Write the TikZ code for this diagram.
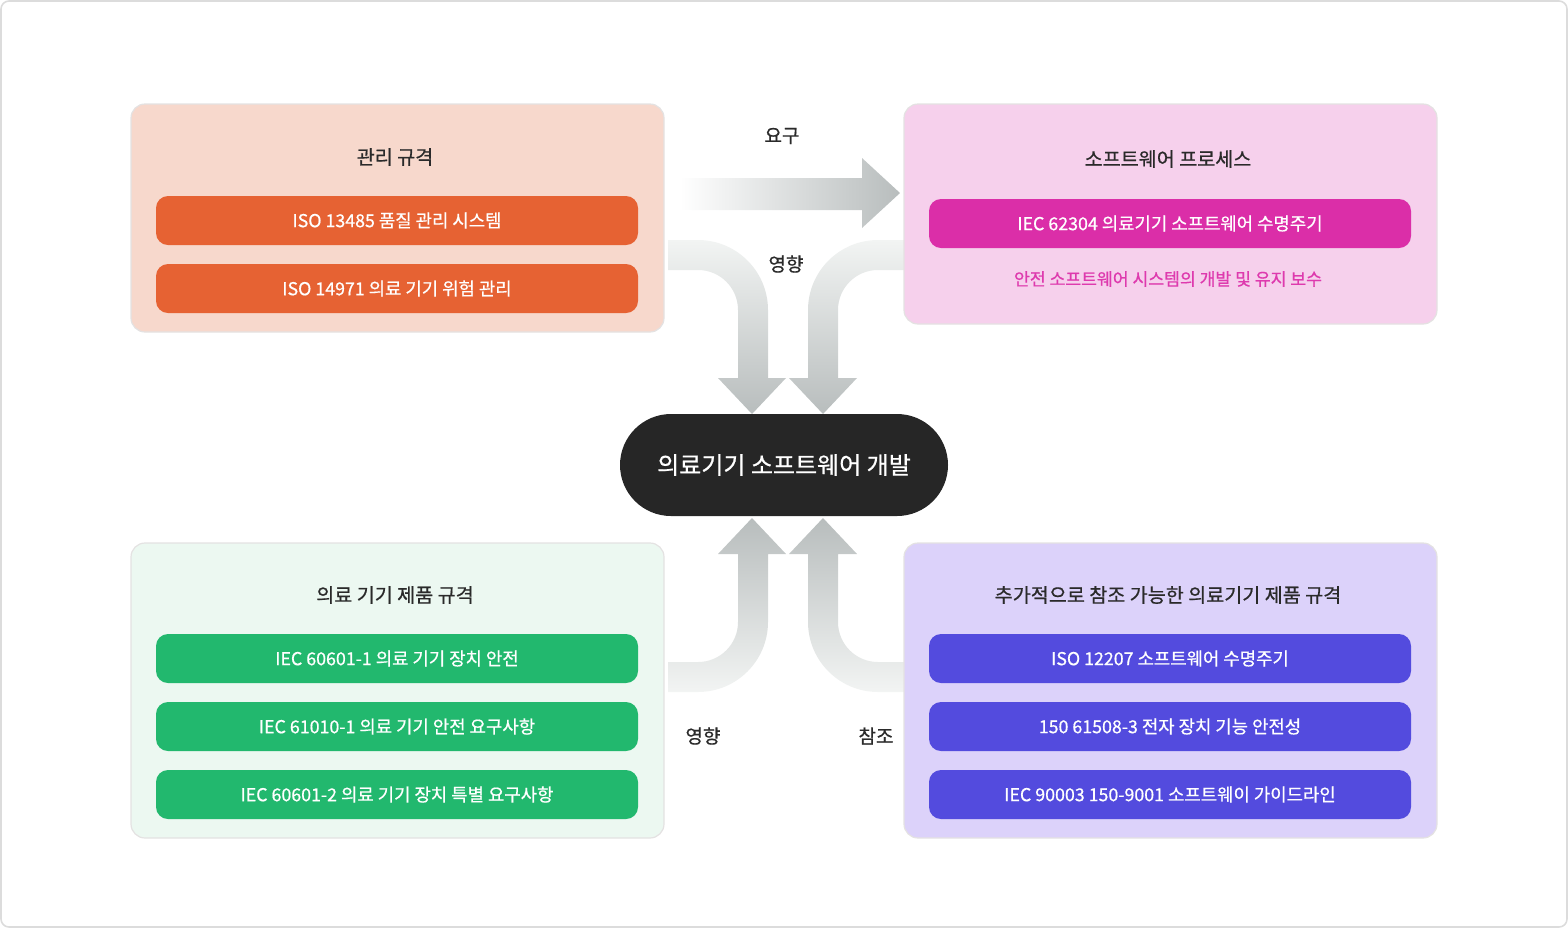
\documentclass[tikz,border=0pt]{standalone}
\usepackage{fontspec}
\setmainfont{Noto Sans CJK KR}
\newfontfamily\medkr{Noto Sans CJK KR}[FakeBold=0.7]
\usetikzlibrary{positioning}

\definecolor{framegray}{HTML}{DCDCDC}
\definecolor{edgegray}{HTML}{E4E2E2}
\definecolor{titlegray}{HTML}{2A2A2A}
\definecolor{peachbg}{HTML}{F7D8CC}
\definecolor{pinkbg}{HTML}{F6D0EC}
\definecolor{mintbg}{HTML}{ECF8F1}
\definecolor{lilacbg}{HTML}{DCD2FA}
\definecolor{orangepill}{HTML}{E66233}
\definecolor{magentapill}{HTML}{DB2EA8}
\definecolor{magentatext}{HTML}{DE3AAE}
\definecolor{greenpill}{HTML}{22B86E}
\definecolor{purplepill}{HTML}{534BDE}
\definecolor{corebg}{HTML}{262626}
\definecolor{flowdark}{HTML}{B8BDBD}
\definecolor{flowlight}{HTML}{F2F4F3}

\begin{document}
\begin{tikzpicture}[
x=0.5pt,y=-0.5pt,
node distance=9.5pt,
group/.style={
  draw=edgegray,
  line width=0.6pt,
  rounded corners=7pt,
  minimum width=266.5pt,
  inner sep=0pt
},
pill/.style={
  rounded corners=6pt,
  minimum width=241pt,
  minimum height=24.5pt,
  inner sep=0pt,
  outer sep=0pt,
  text=white,
  font=\medkr\fontsize{8.9}{10}\selectfont
},
grouptitle/.style={text=titlegray,font=\medkr\fontsize{9.8}{11}\selectfont},
flowlabel/.style={text=titlegray,font=\medkr\fontsize{9.5}{11}\selectfont},
downflow/.style={top color=flowlight,bottom color=flowdark},
upflow/.style={top color=flowdark,bottom color=flowlight}
]
\useasboundingbox (0,0) rectangle (1568,928);
\draw[framegray,line width=0.8pt,rounded corners=4pt] (1,1) rectangle (1567,927);

% broad grey flows
\shade[left color=white,right color=flowdark]
  (680,178) -- (862,178) -- (862,158) -- (900,193) -- (862,228) -- (862,210) -- (680,210) -- cycle;
\shade[downflow]
  (668,240) -- (698,240) arc[start angle=-90,end angle=0,radius=70]
  -- (768,378) -- (786,378) -- (752,414) -- (718,378) -- (738,378) -- (738,310)
  arc[start angle=0,end angle=-90,radius=40] -- (668,270) -- cycle;
\shade[downflow]
  (904,240) -- (878,240) arc[start angle=-90,end angle=-180,radius=70]
  -- (808,378) -- (789,378) -- (823,414) -- (857,378) -- (838,378) -- (838,310)
  arc[start angle=180,end angle=270,radius=40] -- (904,270) -- cycle;
\shade[upflow]
  (668,692) -- (698,692) arc[start angle=90,end angle=0,radius=70]
  -- (768,554) -- (786,554) -- (752,518) -- (718,554) -- (738,554) -- (738,622)
  arc[start angle=0,end angle=90,radius=40] -- (668,662) -- cycle;
\shade[upflow]
  (904,692) -- (878,692) arc[start angle=90,end angle=180,radius=70]
  -- (808,554) -- (789,554) -- (823,518) -- (857,554) -- (838,554) -- (838,622)
  arc[start angle=180,end angle=90,radius=40] -- (904,662) -- cycle;

% groups
\node[group,fill=peachbg,minimum height=114pt] (mgmt) at (397.5,218) {};
\node[group,fill=pinkbg,minimum height=110pt] (swproc) at (1170.5,214) {};
\node[group,fill=mintbg,minimum height=147.5pt] (device) at (397.5,690.5) {};
\node[group,fill=lilacbg,minimum height=147.5pt] (extra) at (1170.5,690.5) {};

\node[grouptitle] (mgmttitle) at (395,157) {관리 규격};
\node[pill,fill=orangepill] (iso13485) at (397,220.5) {ISO 13485 품질 관리 시스템};
\node[pill,fill=orangepill,below=of iso13485] (iso14971) {ISO 14971 의료 기기 위험 관리};

\node[grouptitle] (swtitle) at (1168,159) {소프트웨어 프로세스};
\node[pill,fill=magentapill] (iec62304) at (1170,223.5) {IEC 62304 의료기기 소프트웨어 수명주기};
\node[text=magentatext,font=\medkr\fontsize{8.6}{10}\selectfont] (swnote) at (1168,279)
  {안전 소프트웨어 시스템의 개발 및 유지 보수};

\node[grouptitle] (devtitle) at (395,595) {의료 기기 제품 규격};
\node[pill,fill=greenpill] (iec60601a) at (397,658.5) {IEC 60601-1 의료 기기 장치 안전};
\node[pill,fill=greenpill,below=of iec60601a] (iec61010) {IEC 61010-1 의료 기기 안전 요구사항};
\node[pill,fill=greenpill,below=of iec61010] (iec60601b) {IEC 60601-2 의료 기기 장치 특별 요구사항};

\node[grouptitle] (extratitle) at (1168,595) {추가적으로 참조 가능한 의료기기 제품 규격};
\node[pill,fill=purplepill] (iso12207) at (1170,658.5) {ISO 12207 소프트웨어 수명주기};
\node[pill,fill=purplepill,below=of iso12207] (iso61508) {150 61508-3 전자 장치 기능 안전성};
\node[pill,fill=purplepill,below=of iso61508] (iec90003) {IEC 90003 150-9001 소프트웨이 가이드라인};

% core
\node[fill=corebg,text=white,rounded corners=25.5pt,minimum width=164pt,minimum height=51pt,
  inner sep=0pt,font=\medkr\fontsize{12}{14}\selectfont] (core) at (784,465) {의료기기 소프트웨어 개발};

% flow labels
\node[flowlabel] (require) at (782,136) {요구};
\node[flowlabel] (influencetop) at (786,264) {영향};
\node[flowlabel] (influencebot) at (703,736) {영향};
\node[flowlabel] (reference) at (876,736) {참조};
\end{tikzpicture}
\end{document}
